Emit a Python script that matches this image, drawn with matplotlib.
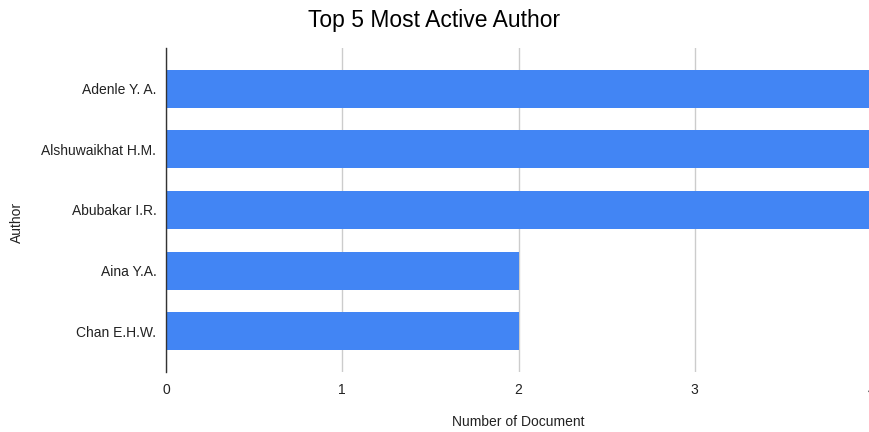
import matplotlib.pyplot as plt

authors = ["Adenle Y. A.", "Alshuwaikhat H.M.", "Abubakar I.R.", "Aina Y.A.", "Chan E.H.W."]
documents = [4, 4, 4, 2, 2]
x_ticks = [0, 1, 2, 3, 4]

plt.rcParams["font.family"] = ["Liberation Sans", "DejaVu Sans"]

fig = plt.figure(figsize=(8.69, 4.32), dpi=100)
# plot area runs past the right edge, as in the exported chart
ax = fig.add_axes([166 / 869, 1 - 372 / 432, 705 / 869, 324 / 432])

ypos = list(range(len(authors)))
ax.barh(ypos, documents, height=0.63, color="#4285F4", zorder=3)

ax.set_xlim(0, 4)
ax.set_ylim(len(authors) - 0.33, -0.67)
ax.set_xticks(x_ticks)
ax.set_xticklabels([str(t) for t in x_ticks])
ax.set_yticks(ypos)
ax.set_yticklabels(authors)
ax.tick_params(axis="both", length=0, labelsize=10, colors="#222222")
ax.tick_params(axis="x", pad=8)
ax.tick_params(axis="y", pad=7)

ax.grid(axis="x", color="#cccccc", lw=1, zorder=0)
for s in ["top", "right", "bottom"]:
    ax.spines[s].set_visible(False)
ax.spines["left"].set_color("#333333")
ax.spines["left"].set_linewidth(1)
ax.spines["left"].set_zorder(4)

ax.set_xlabel("Number of Document", fontsize=10, color="#222222", labelpad=13)
fig.text(17 / 869, 1 - 222 / 432, "Author", rotation=90, ha="center", va="center",
         fontsize=10, color="#222222")
fig.text(0.5, 1 - 20 / 432, "Top 5 Most Active Author", ha="center", va="center",
         fontsize=16.5, color="#000000")

fig.savefig("out.png", dpi=100)
